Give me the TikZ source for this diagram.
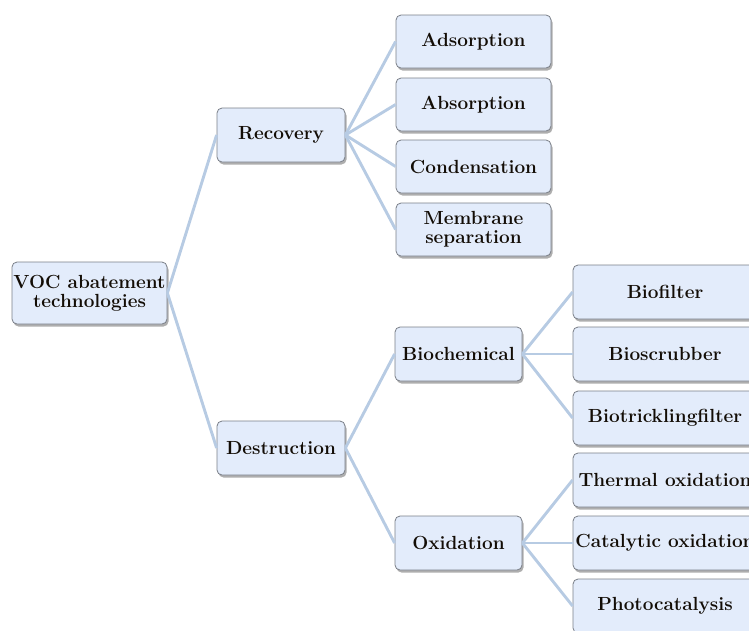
\documentclass[tikz,border=0pt]{standalone}
\usetikzlibrary{shadows}
\definecolor{boxfill}{HTML}{E3ECFB}
\definecolor{boxdraw}{HTML}{7A7F88}
\definecolor{linkc}{HTML}{B7CBE3}
\tikzset{
  box/.style={draw=boxdraw, line width=0.8pt, fill=boxfill, rounded corners=5pt,
    inner sep=0pt, align=center, text=black!90!brown, font=\fontsize{19}{19}\selectfont\bfseries,
    drop shadow={shadow xshift=1.5pt, shadow yshift=-2.5pt, opacity=0.45, fill=black!70}},
  link/.style={draw=linkc, line width=2.9pt}
}
\begin{document}
\begin{tikzpicture}[x=1pt,y=-1pt]
\useasboundingbox (0,0) rectangle (749,630);
\clip (0,0) rectangle (749,630);
\node[box, minimum width=155pt, minimum height=62pt] (voc) at (89.5,293) {VOC abatement\\technologies};
\node[box, minimum width=128pt, minimum height=54pt] (rec) at (281,135) {Recovery};
\node[box, minimum width=128pt, minimum height=54pt] (des) at (281,448) {Destruction};
\node[box, minimum width=155pt, minimum height=53pt] (ads) at (473.5,41.5) {Adsorption};
\node[box, minimum width=155pt, minimum height=53pt] (abs) at (473.5,104.5) {Absorption};
\node[box, minimum width=155pt, minimum height=53pt] (con) at (473.5,166.5) {Condensation};
\node[box, minimum width=155pt, minimum height=53pt] (mem) at (473.5,229.5) {Membrane\\separation};
\node[box, minimum width=127pt, minimum height=54pt] (bio) at (458.5,354) {Biochemical};
\node[box, minimum width=127pt, minimum height=54pt] (oxi) at (458.5,543) {Oxidation};
\node[box, minimum width=184pt, minimum height=54pt] (bf) at (665,292) {Biofilter};
\node[box, minimum width=184pt, minimum height=54pt] (bs) at (665,354) {Bioscrubber};
\node[box, minimum width=184pt, minimum height=54pt] (bt) at (665,418) {Biotricklingfilter};
\node[box, minimum width=184pt, minimum height=54pt] (to) at (665,480) {Thermal oxidation};
\node[box, minimum width=184pt, minimum height=54pt] (co) at (665,543) {Catalytic oxidation};
\node[box, minimum width=184pt, minimum height=54pt] (pc) at (665,606) {Photocatalysis};
\foreach \a/\b in {voc/rec, voc/des, rec/ads, rec/abs, rec/con, rec/mem, des/bio, des/oxi,
  bio/bf, bio/bs, bio/bt, oxi/to, oxi/co, oxi/pc}
  \draw[link] (\a.east) -- (\b.west);
\end{tikzpicture}
\end{document}
